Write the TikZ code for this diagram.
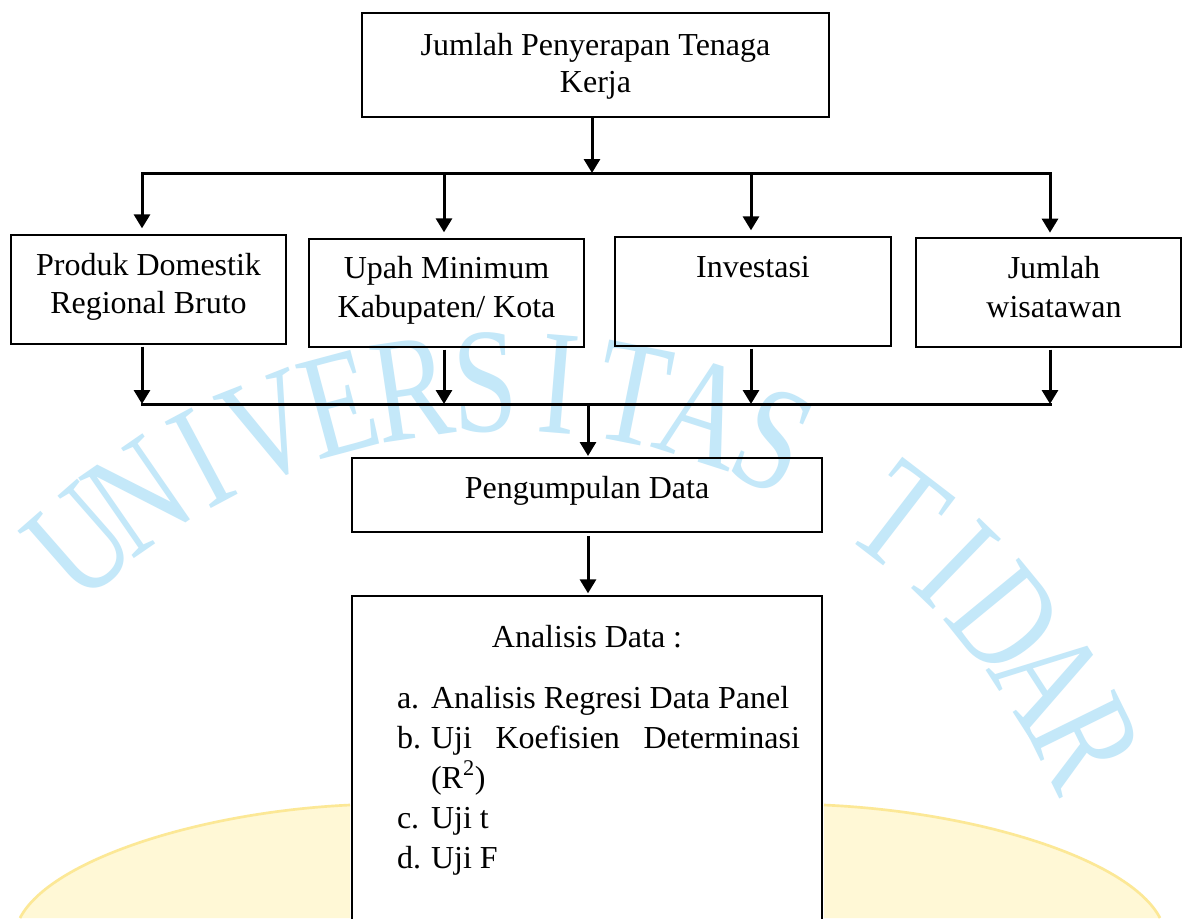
\documentclass[tikz,border=0pt]{standalone}
\usepackage{fontspec}
\usepackage{graphicx}
\setmainfont{Liberation Serif}
\usetikzlibrary{arrows.meta}
\definecolor{wmblue}{RGB}{196,232,249}
\definecolor{wmyel}{RGB}{255,248,214}
\definecolor{wmyeledge}{RGB}{252,232,150}
\newcommand\mkbox[5]{\node[box,minimum width={(#4-#2)*0.75pt},minimum height={(#5-#3)*0.75pt}] (#1) at ({(#2+#4)/2},{(#3+#5)/2}) {};}
\begin{document}
\begin{tikzpicture}[x=0.75pt,y=-0.75pt,
  box/.style={draw=black,line width=1.5pt,inner sep=0pt,outer sep=0pt,rectangle},
  lbl/.style={inner sep=0pt,outer sep=0pt,anchor=base,font=\fontsize{24pt}{28pt}\selectfont},
  wm/.style={inner sep=0pt,outer sep=0pt,anchor=base,text=wmblue,font=\fontsize{112pt}{112pt}\selectfont},
  conn/.style={line width=2.25pt},
  bus/.style={conn,line cap=rect},
  arr/.style={conn,-{Triangle[width=12pt,length=10.5pt]}},
]
\useasboundingbox (0,0) rectangle (1182,918);
\clip (0,0) rectangle (1182,918);
\fill[white] (0,0) rectangle (1182,918);

% watermark
\fill[wmyel] (20,918) .. controls (50,860) and (200,812) .. (350,805) -- (350,918) -- cycle;
\draw[wmyeledge,line width=2pt] (20,918) .. controls (50,860) and (200,812) .. (350,805);
\fill[wmyel] (824,805) .. controls (980,812) and (1130,860) .. (1160,918) -- (824,918) -- cycle;
\draw[wmyeledge,line width=2pt] (824,805) .. controls (980,812) and (1130,860) .. (1160,918);
\foreach \ch [count=\k from 0] in {U,N,I,V,E,R,S,I,T,A,S,{},T,I,D,A,R}{
  \pgfmathsetmacro\ang{131.2-\k*6.56}
  \node[wm,rotate=\ang-90] (w\k) at ({506+598*cos(\ang)},{1029-598*sin(\ang)}) {\scalebox{0.78}[1]{\ch}};
}

% boxes
\mkbox{top}{362}{13}{829}{117}
\mkbox{p1}{11}{235}{286}{344}
\mkbox{p2}{309}{239}{584}{347}
\mkbox{p3}{615}{237}{891}{346}
\mkbox{p4}{916}{238}{1181}{347}
\mkbox{pd}{352}{458}{822}{532}
\mkbox{an}{352}{596}{822}{940}

% texts
\node[lbl] (t0a) at (595.5,55) {Jumlah Penyerapan Tenaga};
\node[lbl] (t0b) at (595.5,92) {Kerja};
\node[lbl] (t1a) at (148.5,275) {Produk Domestik};
\node[lbl] (t1b) at (148.5,313) {Regional Bruto};
\node[lbl] (t2a) at (446.5,278) {Upah Minimum};
\node[lbl] (t2b) at (446.5,317) {Kabupaten/ Kota};
\node[lbl] (t3a) at (753,277) {Investasi};
\node[lbl] (t4a) at (1054,278) {Jumlah};
\node[lbl] (t4b) at (1054,317) {wisatawan};
\node[lbl] (t5) at (587,498) {Pengumpulan Data};

\node[lbl] (ah) at (587,647) {Analisis Data :};
\node[lbl,anchor=base west] (la) at (397,708) {a.};
\node[lbl,anchor=base west] (ia) at (431,708) {Analisis Regresi Data Panel};
\node[lbl,anchor=base west] (lb) at (397,748) {b.};
\node[lbl,anchor=base west] (ib) at (431,748) {\makebox[276.75pt][s]{Uji Koefisien Determinasi}};
\node[lbl,anchor=base west] (ib2) at (431,788) {(R\textsuperscript{2})};
\node[lbl,anchor=base west] (lc) at (397,828) {c.};
\node[lbl,anchor=base west] (ic) at (431,828) {Uji t};
\node[lbl,anchor=base west] (ld) at (397,868) {d.};
\node[lbl,anchor=base west] (id) at (431,868) {Uji F};

% bus coordinates
\coordinate (um) at (592,173);
\coordinate (u1) at (142,173);
\coordinate (u2) at (444,173);
\coordinate (u3) at (751,173);
\coordinate (u4) at (1050,173);
\coordinate (lm) at (588,404);
\coordinate (l1) at (142,404);
\coordinate (l2) at (444,404);
\coordinate (l3) at (751,404);
\coordinate (l4) at (1050,404);

% connectors
\draw[arr] (top.south -| um) -- (um);
\draw[bus] (u1) -- (u4);
\draw[arr,shorten >=5pt] (u1) -- (p1.north -| u1);
\draw[arr,shorten >=5pt] (u2) -- (p2.north -| u2);
\draw[arr,shorten >=5pt] (u3) -- (p3.north -| u3);
\draw[arr,shorten >=4pt] (u4) -- (p4.north -| u4);

\draw[arr,shorten <=2pt] (p1.south -| l1) -- (l1);
\draw[arr,shorten <=2pt] (p2.south -| l2) -- (l2);
\draw[arr,shorten <=2pt] (p3.south -| l3) -- (l3);
\draw[arr,shorten <=2pt] (p4.south -| l4) -- (l4);
\draw[bus] (l1) -- (l4);
\draw[arr,shorten >=1.5pt] (lm) -- (pd.north -| lm);
\draw[arr,shorten <=3pt,shorten >=2pt] (pd.south -| lm) -- (an.north -| lm);
\end{tikzpicture}
\end{document}
